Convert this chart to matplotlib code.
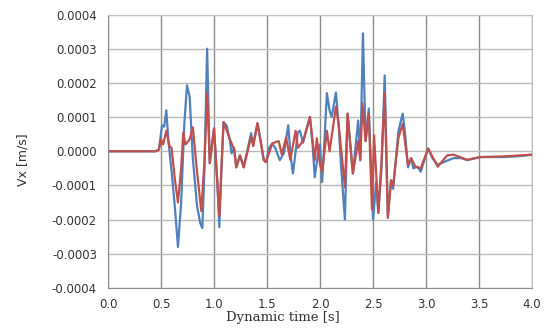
import numpy as np
import matplotlib
matplotlib.use("Agg")
import matplotlib.pyplot as plt

# 値は 1e-4 m/s 単位で読み取り
t_blue = [0.0, 0.45, 0.48, 0.51, 0.53, 0.55, 0.57, 0.60, 0.63, 0.66, 0.69, 0.72, 0.745, 0.77,
          0.80, 0.84, 0.87, 0.89, 0.91, 0.935, 0.96, 1.00, 1.03, 1.05, 1.07, 1.09, 1.12, 1.15,
          1.165, 1.19, 1.21, 1.245, 1.28, 1.35, 1.37, 1.41, 1.44, 1.47, 1.49, 1.52, 1.55, 1.58,
          1.62, 1.66, 1.70, 1.725, 1.745, 1.77, 1.79, 1.81, 1.84, 1.87, 1.905, 1.93, 1.95, 1.98,
          2.00, 2.02, 2.04, 2.065, 2.09, 2.11, 2.15, 2.175, 2.20, 2.235, 2.26, 2.31, 2.36, 2.38,
          2.405, 2.43, 2.46, 2.50, 2.53, 2.55, 2.58, 2.61, 2.64, 2.67, 2.69, 2.74, 2.78, 2.80,
          2.83, 2.86, 2.88, 2.92, 2.95, 2.98, 3.02, 3.06, 3.11, 3.18, 3.26, 3.33, 3.39, 3.51,
          3.73, 3.85, 4.0]
v_blue = [0.0, 0.0, 0.05, 0.76, 0.72, 1.2, 0.3, -0.6, -1.6, -2.8, -1.5, 0.8, 1.93, 1.6,
          -0.2, -1.6, -2.1, -2.25, -0.5, 3.0, -0.35, 0.67, -0.8, -2.22, -0.5, 0.85, 0.75, 0.3,
          -0.06, 0.1, -0.47, -0.12, -0.47, 0.53, 0.2, 0.82, 0.3, -0.26, -0.32, 0.1, 0.23, 0.08,
          -0.26, -0.05, 0.76, -0.2, -0.65, 0.0, 0.55, 0.6, 0.25, 0.6, 1.0, 0.2, -0.76, -0.1,
          0.2, -0.9, 0.2, 1.7, 1.2, 1.0, 1.72, 0.8, -0.5, -2.0, 1.1, -0.65, 0.9, -0.26,
          3.45, 0.3, 1.25, -2.0, -0.9, -1.8, -0.5, 2.22, -1.9, -0.85, -1.1, 0.6, 1.1, 0.6,
          -0.47, -0.2, -0.5, -0.45, -0.6, -0.3, 0.08, -0.2, -0.4, -0.3, -0.2, -0.2, -0.26, -0.17,
          -0.17, -0.15, -0.1]

t_red = [0.0, 0.45, 0.48, 0.50, 0.52, 0.55, 0.58, 0.60, 0.63, 0.66, 0.69, 0.71, 0.73, 0.745,
         0.77, 0.80, 0.84, 0.88, 0.91, 0.935, 0.96, 1.00, 1.05, 1.09, 1.15, 1.19, 1.21, 1.245,
         1.28, 1.35, 1.37, 1.41, 1.47, 1.49, 1.55, 1.61, 1.64, 1.68, 1.72, 1.77, 1.79, 1.84,
         1.905, 1.95, 1.97, 2.00, 2.02, 2.065, 2.09, 2.15, 2.175, 2.235, 2.26, 2.31, 2.36, 2.38,
         2.40, 2.43, 2.46, 2.49, 2.51, 2.55, 2.58, 2.61, 2.64, 2.67, 2.69, 2.74, 2.78, 2.83,
         2.86, 2.90, 2.95, 3.02, 3.11, 3.20, 3.26, 3.39, 3.51, 3.73, 4.0]
v_red = [0.0, 0.0, 0.05, 0.35, 0.2, 0.6, 0.15, 0.1, -0.8, -1.5, -0.5, 0.55, 0.2, 0.25,
         0.35, 0.7, -0.6, -1.75, -0.3, 1.7, -0.35, 0.67, -1.9, 0.85, 0.35, 0.05, -0.47, -0.12,
         -0.47, 0.43, 0.15, 0.82, -0.26, -0.32, 0.23, 0.3, -0.1, 0.4, -0.25, 0.6, 0.1, 0.3,
         1.0, -0.26, 0.38, -0.4, -0.6, 0.6, 0.0, 1.3, 0.8, -1.05, 1.1, -0.65, 0.3, -0.26,
         1.4, 0.3, 1.1, -1.7, 0.47, -1.8, -0.3, 1.7, -1.95, -0.85, -1.0, 0.4, 0.8, -0.4,
         -0.2, -0.45, -0.5, 0.08, -0.45, -0.12, -0.1, -0.25, -0.17, -0.15, -0.1]

x_ticks = np.arange(0, 4.01, 0.5)
y_ticks = np.arange(-0.0004, 0.00041, 0.0001)

fig = plt.figure(figsize=(5.55, 3.32), dpi=100)
ax = fig.add_axes([0.1946, 0.1325, 0.7640, 0.8238])

ax.plot(t_blue, np.array(v_blue) * 1e-4, color="#4F81BD", lw=1.6, solid_joinstyle="round")
ax.plot(t_red, np.array(v_red) * 1e-4, color="#C0504D", lw=1.6, solid_joinstyle="round")

ax.set_xlim(0, 4.0)
ax.set_ylim(-0.0004, 0.0004)
ax.set_xticks(x_ticks)
ax.set_yticks(y_ticks)
ax.set_xticklabels([f"{v:.1f}" for v in x_ticks])
ax.set_yticklabels([f"{v:.4f}" if abs(v) > 1e-12 else "0.0000" for v in y_ticks])
ax.tick_params(length=0, labelsize=8.5, colors="#333333", pad=8)
ax.tick_params(axis="x", pad=7)

ax.xaxis.grid(True, color="#8c8c8c", lw=1.0)
ax.yaxis.grid(True, color="#bcbcbc", lw=1.0)
ax.set_axisbelow(True)
for s in ax.spines.values():
    s.set_color("#c0c0c0")
ax.spines["left"].set_color("#8c8c8c")
ax.spines["bottom"].set_color("#8c8c8c")

ax.set_xlabel("Dynamic time [s]", family="DejaVu Serif", fontsize=9.5, color="#333333", labelpad=0)
ax.xaxis.set_label_coords(0.413, -0.085)
ax.set_ylabel("Vx [m/s]", fontsize=9, color="#333333", labelpad=8)
ax.yaxis.set_label_coords(-0.185, 0.47)

fig.savefig("out.png", dpi=100)
